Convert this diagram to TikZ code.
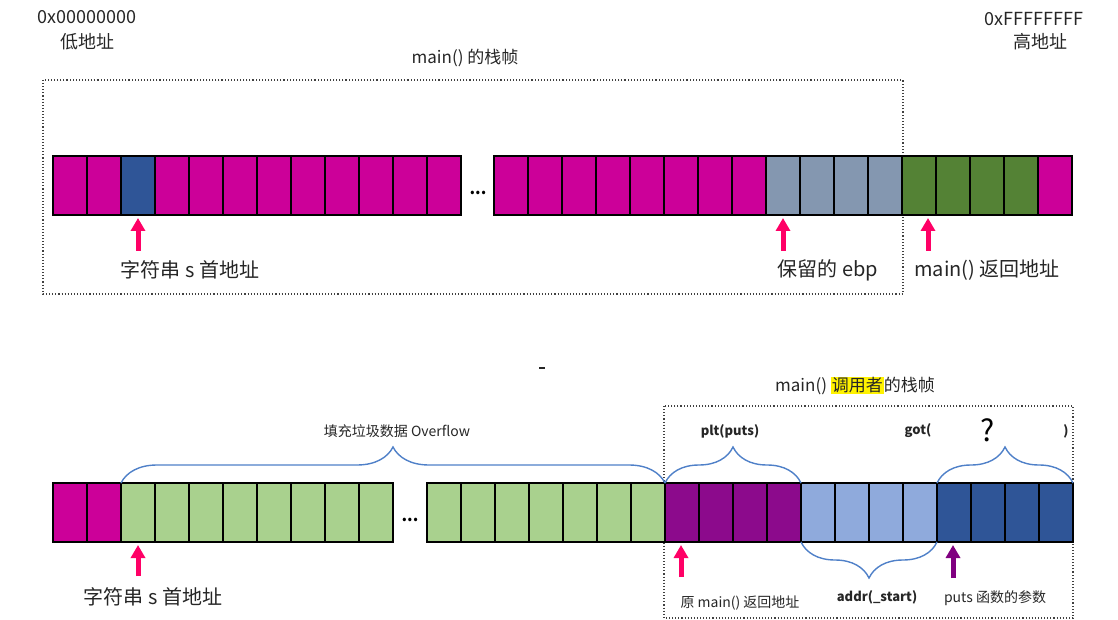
\documentclass[tikz,border=0pt]{standalone}
\usepackage{fontspec}
\setmainfont{Noto Sans CJK SC}
\usetikzlibrary{arrows.meta, decorations.pathreplacing, positioning}

\definecolor{cmag}{HTML}{CC0099}
\definecolor{cblue}{HTML}{2F5597}
\definecolor{cgray}{HTML}{8497B0}
\definecolor{cgreen}{HTML}{548235}
\definecolor{clgreen}{HTML}{A9D18E}
\definecolor{cpurple}{HTML}{8C0A8C}
\definecolor{clblue}{HTML}{8FAADC}
\definecolor{cpink}{HTML}{FF0066}
\definecolor{cparrow}{HTML}{800080}
\definecolor{bracec}{HTML}{4F80C8}
\definecolor{txt}{HTML}{262626}

\begin{document}
\begin{tikzpicture}[x=1pt, y=-1pt,
  cell/.style={draw, line width=1.2pt, minimum width=34pt, minimum height=59pt, inner sep=0pt, outer sep=0pt},
  frame/.style={draw=black!75, dotted, line width=1.1pt},
  ptr/.style={line width=5pt, shorten >=3pt, -{Triangle[width=14pt,length=13pt]}},
  brc/.style={draw=bracec, line width=1.4pt, decorate, decoration={brace, amplitude=36pt}},
  lbl/.style={text=txt, font=\fontsize{18}{20}\selectfont},
  big/.style={text=txt, font=\fontsize{20}{22}\selectfont},
  mid/.style={text=txt, font=\fontsize{17}{19}\selectfont},
  sml/.style={text=txt, font=\fontsize{14}{16}\selectfont},
  bld/.style={text=txt, font=\fontsize{13}{15}\selectfont\bfseries}]

  \useasboundingbox (0,0) rectangle (1118,620);

  % address ends
  \node[lbl] (lowhex) at (87,17) {0x00000000};
  \node[lbl] (low) at (87,42) {低地址};
  \node[lbl] (highhex) at (1034,19) {0xFFFFFFFF};
  \node[lbl] (high) at (1040,42) {高地址};

  % stack frame of main()
  \node[mid] (mainframe) at (465,58) {main() 的栈帧};
  \draw[frame] (43,80) rectangle (903,294);

  \foreach \c [count=\i from 0] in {cmag,cmag,cblue,cmag,cmag,cmag,cmag,cmag,cmag,cmag,cmag,cmag}
    \node[cell, fill=\c] (ta\i) at (70+34*\i,185.5) {};
  \foreach \c [count=\i from 0] in {cmag,cmag,cmag,cmag,cmag,cmag,cmag,cmag,cgray,cgray,cgray,cgray,cgreen,cgreen,cgreen,cgreen,cmag}
    \node[cell, fill=\c] (tb\i) at (511+34*\i,185.5) {};
  \node[font=\fontsize{16}{18}\selectfont\bfseries] (tdots) at (478,193) {...};

  \coordinate (pa) at (138,251);
  \coordinate (pb) at (783,251);
  \coordinate (pc) at (928,251);
  \draw[ptr, cpink] (pa) -- (ta2.south);
  \draw[ptr, cpink] (pb) -- (tb8.south);
  \draw[ptr, cpink] (pc) -- (pc |- tb12.south);
  \node[big] (stra) at (190,270) {字符串 s 首地址};
  \node[big] (ebp) at (828,270) {保留的 ebp};
  \node[big] (reta) at (987,270) {main() 返回地址};

  \draw[line width=2pt, txt] (539,368) -- (545,368);

  % after overflow
  \node[mid] (callerframe) at (855,386) {main() {\setlength{\fboxsep}{1pt}\colorbox{yellow}{调用者}}的栈帧};
  \draw[frame] (664,406) rectangle (1073,618);

  \foreach \c [count=\i from 0] in {cmag,cmag,clgreen,clgreen,clgreen,clgreen,clgreen,clgreen,clgreen,clgreen}
    \node[cell, fill=\c] (ba\i) at (70+34*\i,512.5) {};
  \foreach \c [count=\i from 0] in {clgreen,clgreen,clgreen,clgreen,clgreen,clgreen,clgreen,cpurple,cpurple,cpurple,cpurple,clblue,clblue,clblue,clblue,cblue,cblue,cblue,cblue}
    \node[cell, fill=\c] (bb\i) at (444+34*\i,512.5) {};
  \node[font=\fontsize{16}{18}\selectfont\bfseries] (bdots) at (410,520) {...};

  \draw[brc] (ba2.north west) -- (bb6.north east);
  \draw[brc] (bb7.north west) -- (bb10.north east);
  \draw[brc] (bb15.north west) -- (bb18.north east);
  \draw[brc] (bb14.south east) -- (bb11.south west);

  \node[sml] (overflow) at (397,431) {填充垃圾数据 Overflow};
  \node[bld] (plt) at (730,431) {plt(puts)};
  \node[bld] (gotl) at (918,431) {got(};
  \node[font=\fontsize{30}{32}\selectfont] (qm) at (988,430) {?};
  \node[bld] (gotr) at (1066,431) {)};
  \node[bld] (addr) at (877,597) {addr(\_start)};

  \coordinate (pd) at (138,576);
  \coordinate (pe) at (681,577);
  \coordinate (pf) at (953,578);
  \draw[ptr, cpink] (pd) -- (ba2.south);
  \draw[ptr, cpink] (pe) -- (pe |- bb7.south);
  \draw[ptr, cparrow] (pf) -- (pf |- bb15.south);
  \node[big] (strb) at (153,597) {字符串 s 首地址};
  \node[sml] (origret) at (740,603) {原 main() 返回地址};
  \node[sml] (putsarg) at (995,598) {puts 函数的参数};
\end{tikzpicture}
\end{document}
